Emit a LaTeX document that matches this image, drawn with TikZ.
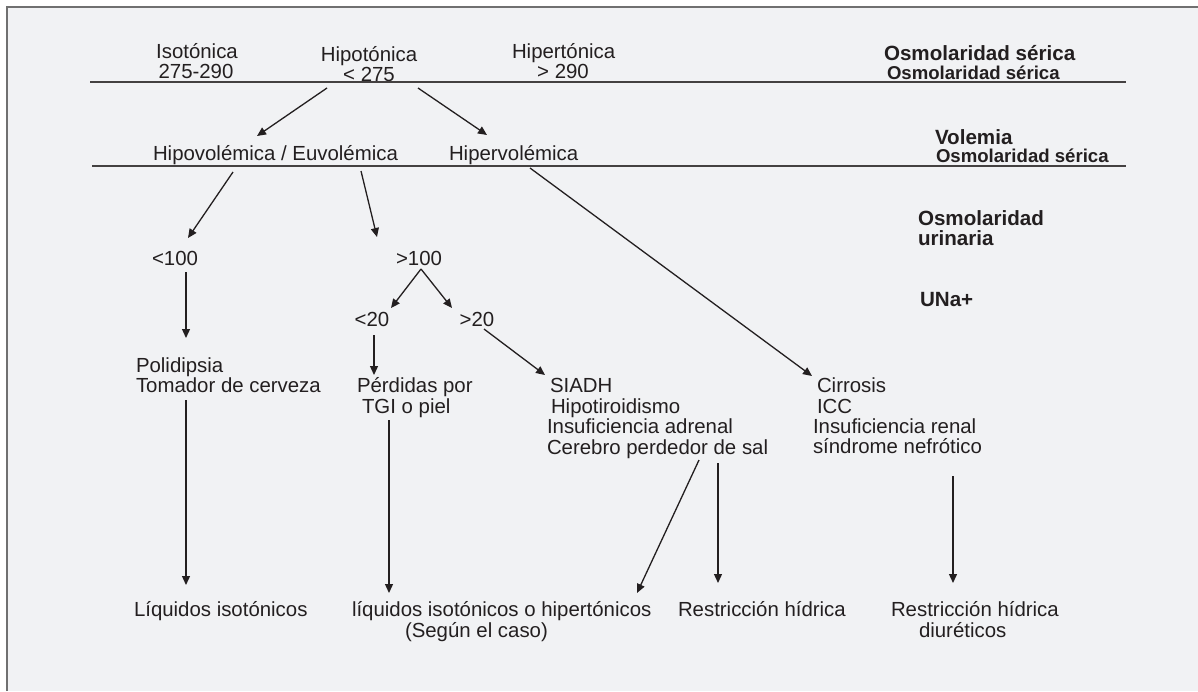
\documentclass[tikz,border=0pt]{standalone}
\usepackage{fontspec}
\setmainfont{Liberation Sans}
\usetikzlibrary{arrows.meta}
\definecolor{bgc}{HTML}{F1F2F4}
\definecolor{ink}{HTML}{231F20}
\definecolor{framec}{HTML}{707070}
\tikzset{
  txt/.style={inner sep=0pt, outer sep=0pt, text=ink, font=\fontsize{20.4}{21}\selectfont},
  lab/.style={inner sep=0pt, outer sep=0pt, text=ink, font=\fontsize{20.6}{21}\selectfont\bfseries},
  labs/.style={inner sep=0pt, outer sep=0pt, text=ink, font=\fontsize{18.6}{19}\selectfont\bfseries},
  arr/.style={draw=ink, line width=1.3pt, -{Triangle[length=9pt,width=8pt]}},
  sep/.style={draw=ink!85, line width=1.4pt}
}
\begin{document}
\begin{tikzpicture}[x=1pt,y=-1pt]
\useasboundingbox (0,0) rectangle (1198,691);
\fill[white] (0,0) rectangle (1198,691);
\fill[bgc] (7,7) rectangle (1198,691);
\draw[framec, line width=1.8pt] (7,691) -- (7,7) -- (1198,7);

% header row
\node[txt, anchor=base] (iso1) at (197,58) {Isotónica};
\node[txt, anchor=base] (iso2) at (196,78) {275-290};
\node[txt, anchor=base] (hypo1) at (369,61) {Hipotónica};
\node[txt, anchor=base] (hypo2) at (369,81) {< 275};
\node[txt, anchor=base west] (hyper1) at (512,58) {Hipertónica};
\node[txt, anchor=base] (hyper2) at (563,78) {> 290};
\node[lab, anchor=base west] (osm1) at (884,60) {Osmolaridad sérica};
\node[labs, anchor=base west] (osm2) at (887,79) {Osmolaridad sérica};
\draw[sep] (90,82) -- (1126,82);

% volemia row
\node[txt, anchor=base west] (vol1) at (153,160) {Hipovolémica / Euvolémica};
\node[txt, anchor=base west] (vol2) at (449,160) {Hipervolémica};
\node[lab, anchor=base west] (volh) at (935,144) {Volemia};
\node[labs, anchor=base west] (osm3) at (936,162) {Osmolaridad sérica};
\draw[sep] (92,166) -- (1126,166);

% right labels
\node[lab, anchor=base west] (uo1) at (918,225) {Osmolaridad};
\node[lab, anchor=base west] (uo2) at (918,245) {urinaria};
\node[lab, anchor=base west] (una) at (920,306) {UNa+};

% middle
\node[txt, anchor=base] (lt100) at (175,265) {<100};
\node[txt, anchor=base] (gt100) at (419,265) {>100};
\node[txt, anchor=base] (lt20) at (372,326) {<20};
\node[txt, anchor=base] (gt20) at (477,326) {>20};

\node[txt, anchor=base west] (pol1) at (136,372) {Polidipsia};
\node[txt, anchor=base west] (pol2) at (136,392) {Tomador de cerveza};
\node[txt, anchor=base west] (per1) at (357,392) {Pérdidas por};
\node[txt, anchor=base west] (per2) at (362,413) {TGI o piel};
\node[txt, anchor=base west] (sia1) at (550,392) {SIADH};
\node[txt, anchor=base west] (sia2) at (551,413) {Hipotiroidismo};
\node[txt, anchor=base west] (sia3) at (547,433) {Insuficiencia adrenal};
\node[txt, anchor=base west] (sia4) at (547,454) {Cerebro perdedor de sal};
\node[txt, anchor=base west] (cir1) at (817,392) {Cirrosis};
\node[txt, anchor=base west] (cir2) at (817,413) {ICC};
\node[txt, anchor=base west] (cir3) at (813,433) {Insuficiencia renal};
\node[txt, anchor=base west] (cir4) at (813,453) {síndrome nefrótico};

% bottom
\node[txt, anchor=base west] (t1) at (134,616) {Líquidos isotónicos};
\node[txt, anchor=base west] (t2a) at (352,616) {líquidos isotónicos o hipertónicos};
\node[txt, anchor=base west] (t2b) at (405,637) {(Según el caso)};
\node[txt, anchor=base west] (t3) at (678,616) {Restricción hídrica};
\node[txt, anchor=base west] (t4a) at (891,616) {Restricción hídrica};
\node[txt, anchor=base west] (t4b) at (919,637) {diuréticos};

% connector end points
\coordinate (a1s) at (327,88);  \coordinate (a1e) at (257,136);
\coordinate (a2s) at (418,88);  \coordinate (a2e) at (487,135);
\coordinate (a3s) at (233,172); \coordinate (a3e) at (188,238);
\coordinate (a4s) at (361,171); \coordinate (a4e) at (377,237);
\coordinate (a5s) at (530,168); \coordinate (a5e) at (812,376);
\coordinate (a6s) at (186,272); \coordinate (a6e) at (186,338);
\coordinate (a7s) at (421,269); \coordinate (a7e) at (391,308);
\coordinate (a8e) at (452,308);
\coordinate (a9s) at (374,335); \coordinate (a9e) at (374,375);
\coordinate (a10s) at (484,329); \coordinate (a10e) at (545,375);
\coordinate (a11s) at (186,400); \coordinate (a11e) at (186,585);
\coordinate (a12s) at (389,420); \coordinate (a12e) at (389,593);
\coordinate (a13s) at (699,460); \coordinate (a13e) at (637,593);
\coordinate (a14s) at (718,463); \coordinate (a14e) at (718,583);
\coordinate (a15s) at (953,476); \coordinate (a15e) at (953,583);

\draw[arr] (a1s) -- (a1e);
\draw[arr] (a2s) -- (a2e);
\draw[arr] (a3s) -- (a3e);
\draw[arr] (a4s) -- (a4e);
\draw[arr] (a5s) -- (a5e);
\draw[arr] (a6s) -- (a6e);
\draw[arr] (a7s) -- (a7e);
\draw[arr] (a7s) -- (a8e);
\draw[arr] (a9s) -- (a9e);
\draw[arr] (a10s) -- (a10e);
\draw[arr] (a11s) -- (a11e);
\draw[arr] (a12s) -- (a12e);
\draw[arr] (a13s) -- (a13e);
\draw[arr] (a14s) -- (a14e);
\draw[arr] (a15s) -- (a15e);
\end{tikzpicture}
\end{document}
